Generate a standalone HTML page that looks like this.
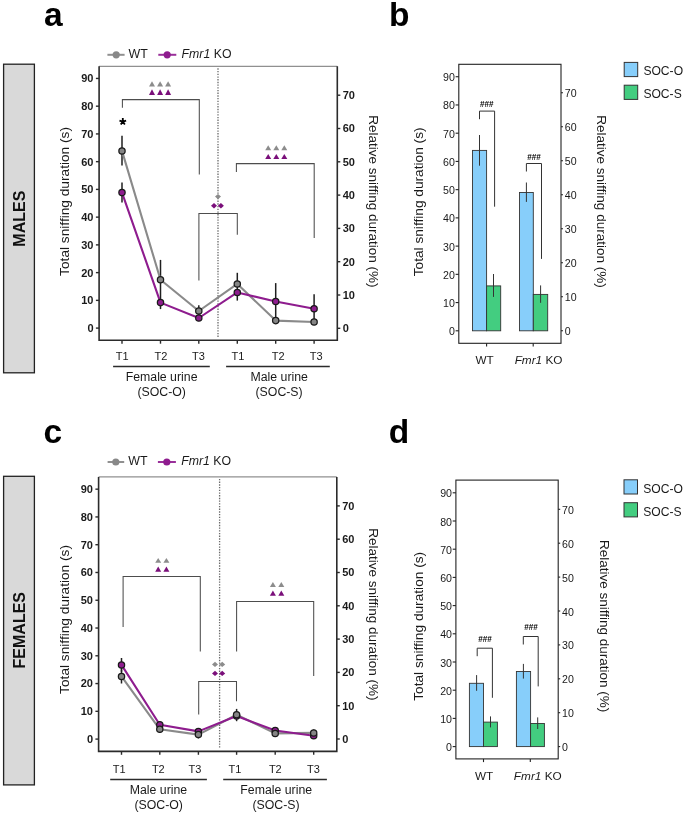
<!DOCTYPE html>
<html><head><meta charset="utf-8"><style>
html,body{margin:0;padding:0;background:#fff;width:685px;height:814px;overflow:hidden;}
svg{display:block;font-family:"Liberation Sans", sans-serif;will-change:transform;}
</style></head><body>
<svg width="685" height="814" viewBox="0 0 685 814" font-family='"Liberation Sans", sans-serif'>
<rect width="685" height="814" fill="#fff"/>
<text x="44.00" y="26.00" font-size="33.5" text-anchor="start" font-weight="bold" font-style="normal" fill="#000" >a</text>
<text x="389.00" y="26.00" font-size="33.5" text-anchor="start" font-weight="bold" font-style="normal" fill="#000" >b</text>
<text x="43.50" y="443.30" font-size="33.5" text-anchor="start" font-weight="bold" font-style="normal" fill="#000" >c</text>
<text x="388.80" y="443.10" font-size="33.5" text-anchor="start" font-weight="bold" font-style="normal" fill="#000" >d</text>
<rect x="3.60" y="64.20" width="30.80" height="308.60" fill="#d9d9d9" stroke="#222" stroke-width="1.3"/>
<rect x="3.60" y="476.30" width="30.80" height="308.60" fill="#d9d9d9" stroke="#222" stroke-width="1.3"/>
<text x="25.00" y="218.70" font-size="16" text-anchor="middle" font-weight="bold" font-style="normal" fill="#111" transform="rotate(-90 25.00 218.70)" >MALES</text>
<text x="25.10" y="630.20" font-size="16" text-anchor="middle" font-weight="bold" font-style="normal" fill="#111" transform="rotate(-90 25.10 630.20)" >FEMALES</text>
<line x1="218.00" y1="68.30" x2="218.00" y2="337.30" stroke="#6a6a6a" stroke-width="1.3" stroke-dasharray="1.35 1.35"/>
<line x1="99.10" y1="66.30" x2="337.30" y2="66.30" stroke="#909090" stroke-width="1.3" />
<polyline points="99.1,66.3 99.1,340.3 337.3,340.3 337.3,66.3" fill="none" stroke="#2b2b2b" stroke-width="1.6"/>
<line x1="95.90" y1="328.10" x2="99.10" y2="328.10" stroke="#2b2b2b" stroke-width="1.4" />
<text x="93.50" y="332.00" font-size="11" text-anchor="end" font-weight="bold" font-style="normal" fill="#1a1a1a" >0</text>
<line x1="95.90" y1="300.36" x2="99.10" y2="300.36" stroke="#2b2b2b" stroke-width="1.4" />
<text x="93.50" y="304.26" font-size="11" text-anchor="end" font-weight="bold" font-style="normal" fill="#1a1a1a" >10</text>
<line x1="95.90" y1="272.62" x2="99.10" y2="272.62" stroke="#2b2b2b" stroke-width="1.4" />
<text x="93.50" y="276.52" font-size="11" text-anchor="end" font-weight="bold" font-style="normal" fill="#1a1a1a" >20</text>
<line x1="95.90" y1="244.88" x2="99.10" y2="244.88" stroke="#2b2b2b" stroke-width="1.4" />
<text x="93.50" y="248.78" font-size="11" text-anchor="end" font-weight="bold" font-style="normal" fill="#1a1a1a" >30</text>
<line x1="95.90" y1="217.14" x2="99.10" y2="217.14" stroke="#2b2b2b" stroke-width="1.4" />
<text x="93.50" y="221.04" font-size="11" text-anchor="end" font-weight="bold" font-style="normal" fill="#1a1a1a" >40</text>
<line x1="95.90" y1="189.40" x2="99.10" y2="189.40" stroke="#2b2b2b" stroke-width="1.4" />
<text x="93.50" y="193.30" font-size="11" text-anchor="end" font-weight="bold" font-style="normal" fill="#1a1a1a" >50</text>
<line x1="95.90" y1="161.66" x2="99.10" y2="161.66" stroke="#2b2b2b" stroke-width="1.4" />
<text x="93.50" y="165.56" font-size="11" text-anchor="end" font-weight="bold" font-style="normal" fill="#1a1a1a" >60</text>
<line x1="95.90" y1="133.92" x2="99.10" y2="133.92" stroke="#2b2b2b" stroke-width="1.4" />
<text x="93.50" y="137.82" font-size="11" text-anchor="end" font-weight="bold" font-style="normal" fill="#1a1a1a" >70</text>
<line x1="95.90" y1="106.18" x2="99.10" y2="106.18" stroke="#2b2b2b" stroke-width="1.4" />
<text x="93.50" y="110.08" font-size="11" text-anchor="end" font-weight="bold" font-style="normal" fill="#1a1a1a" >80</text>
<line x1="95.90" y1="78.44" x2="99.10" y2="78.44" stroke="#2b2b2b" stroke-width="1.4" />
<text x="93.50" y="82.34" font-size="11" text-anchor="end" font-weight="bold" font-style="normal" fill="#1a1a1a" >90</text>
<line x1="337.30" y1="328.30" x2="340.30" y2="328.30" stroke="#2b2b2b" stroke-width="1.4" />
<text x="342.70" y="332.20" font-size="11" text-anchor="start" font-weight="bold" font-style="normal" fill="#1a1a1a" >0</text>
<line x1="337.30" y1="295.00" x2="340.30" y2="295.00" stroke="#2b2b2b" stroke-width="1.4" />
<text x="342.70" y="298.90" font-size="11" text-anchor="start" font-weight="bold" font-style="normal" fill="#1a1a1a" >10</text>
<line x1="337.30" y1="261.70" x2="340.30" y2="261.70" stroke="#2b2b2b" stroke-width="1.4" />
<text x="342.70" y="265.60" font-size="11" text-anchor="start" font-weight="bold" font-style="normal" fill="#1a1a1a" >20</text>
<line x1="337.30" y1="228.40" x2="340.30" y2="228.40" stroke="#2b2b2b" stroke-width="1.4" />
<text x="342.70" y="232.30" font-size="11" text-anchor="start" font-weight="bold" font-style="normal" fill="#1a1a1a" >30</text>
<line x1="337.30" y1="195.10" x2="340.30" y2="195.10" stroke="#2b2b2b" stroke-width="1.4" />
<text x="342.70" y="199.00" font-size="11" text-anchor="start" font-weight="bold" font-style="normal" fill="#1a1a1a" >40</text>
<line x1="337.30" y1="161.80" x2="340.30" y2="161.80" stroke="#2b2b2b" stroke-width="1.4" />
<text x="342.70" y="165.70" font-size="11" text-anchor="start" font-weight="bold" font-style="normal" fill="#1a1a1a" >50</text>
<line x1="337.30" y1="128.50" x2="340.30" y2="128.50" stroke="#2b2b2b" stroke-width="1.4" />
<text x="342.70" y="132.40" font-size="11" text-anchor="start" font-weight="bold" font-style="normal" fill="#1a1a1a" >60</text>
<line x1="337.30" y1="95.20" x2="340.30" y2="95.20" stroke="#2b2b2b" stroke-width="1.4" />
<text x="342.70" y="99.10" font-size="11" text-anchor="start" font-weight="bold" font-style="normal" fill="#1a1a1a" >70</text>
<line x1="122.00" y1="340.30" x2="122.00" y2="343.70" stroke="#2b2b2b" stroke-width="1.4" />
<line x1="160.50" y1="340.30" x2="160.50" y2="343.70" stroke="#2b2b2b" stroke-width="1.4" />
<line x1="198.80" y1="340.30" x2="198.80" y2="343.70" stroke="#2b2b2b" stroke-width="1.4" />
<line x1="237.30" y1="340.30" x2="237.30" y2="343.70" stroke="#2b2b2b" stroke-width="1.4" />
<line x1="275.70" y1="340.30" x2="275.70" y2="343.70" stroke="#2b2b2b" stroke-width="1.4" />
<line x1="314.10" y1="340.30" x2="314.10" y2="343.70" stroke="#2b2b2b" stroke-width="1.4" />
<polyline points="122.40,107.70 122.40,99.60 199.30,99.60 199.30,174.40" fill="none" stroke="#4d4d4d" stroke-width="1.05"/>
<polyline points="236.40,171.90 236.40,163.60 314.20,163.60 314.20,237.90" fill="none" stroke="#4d4d4d" stroke-width="1.05"/>
<polyline points="198.90,280.40 198.90,213.50 237.30,213.50 237.30,234.70" fill="none" stroke="#4d4d4d" stroke-width="1.05"/>
<polygon points="149.00,86.60 155.00,86.60 152.00,81.30" fill="#8c8c8c"/>
<polygon points="157.10,86.60 163.10,86.60 160.10,81.30" fill="#8c8c8c"/>
<polygon points="165.10,86.60 171.10,86.60 168.10,81.30" fill="#8c8c8c"/>
<polygon points="149.00,94.90 155.00,94.90 152.00,89.30" fill="#7a0f7a"/>
<polygon points="157.10,94.90 163.10,94.90 160.10,89.30" fill="#7a0f7a"/>
<polygon points="165.10,94.90 171.10,94.90 168.10,89.30" fill="#7a0f7a"/>
<polygon points="265.20,150.20 271.20,150.20 268.20,145.20" fill="#8c8c8c"/>
<polygon points="273.30,150.20 279.30,150.20 276.30,145.20" fill="#8c8c8c"/>
<polygon points="281.30,150.20 287.30,150.20 284.30,145.20" fill="#8c8c8c"/>
<polygon points="265.20,159.00 271.20,159.00 268.20,153.90" fill="#7a0f7a"/>
<polygon points="273.30,159.00 279.30,159.00 276.30,153.90" fill="#7a0f7a"/>
<polygon points="281.30,159.00 287.30,159.00 284.30,153.90" fill="#7a0f7a"/>
<polygon points="218.00,193.90 221.00,196.60 218.00,199.30 215.00,196.60" fill="#8c8c8c"/>
<polygon points="214.00,203.00 217.00,205.70 214.00,208.40 211.00,205.70" fill="#7a0f7a"/>
<polygon points="220.90,203.00 223.90,205.70 220.90,208.40 217.90,205.70" fill="#7a0f7a"/>
<line x1="122.00" y1="135.70" x2="122.00" y2="165.50" stroke="#1f1f1f" stroke-width="1.5" />
<line x1="122.00" y1="182.50" x2="122.00" y2="202.50" stroke="#1f1f1f" stroke-width="1.5" />
<line x1="160.50" y1="259.90" x2="160.50" y2="309.10" stroke="#1f1f1f" stroke-width="1.5" />
<line x1="198.80" y1="305.20" x2="198.80" y2="316.00" stroke="#1f1f1f" stroke-width="1.5" />
<line x1="237.30" y1="272.80" x2="237.30" y2="300.60" stroke="#1f1f1f" stroke-width="1.5" />
<line x1="275.70" y1="283.10" x2="275.70" y2="320.00" stroke="#1f1f1f" stroke-width="1.5" />
<line x1="314.10" y1="294.30" x2="314.10" y2="322.00" stroke="#1f1f1f" stroke-width="1.5" />
<polyline points="122.00,150.90 160.50,279.80 198.80,311.00 237.30,283.90 275.70,320.60 314.10,322.00" fill="none" stroke="#8a8a8a" stroke-width="2.1" stroke-linejoin="round"/>
<circle cx="122.00" cy="150.90" r="3.15" fill="#858585" stroke="#1a1a1a" stroke-width="1.25"/>
<circle cx="160.50" cy="279.80" r="3.15" fill="#858585" stroke="#1a1a1a" stroke-width="1.25"/>
<circle cx="198.80" cy="311.00" r="3.15" fill="#858585" stroke="#1a1a1a" stroke-width="1.25"/>
<circle cx="237.30" cy="283.90" r="3.15" fill="#858585" stroke="#1a1a1a" stroke-width="1.25"/>
<circle cx="275.70" cy="320.60" r="3.15" fill="#858585" stroke="#1a1a1a" stroke-width="1.25"/>
<circle cx="314.10" cy="322.00" r="3.15" fill="#858585" stroke="#1a1a1a" stroke-width="1.25"/>
<polyline points="122.00,192.60 160.50,302.60 198.80,318.00 237.30,292.40 275.70,301.50 314.10,308.70" fill="none" stroke="#8e1c8e" stroke-width="2.1" stroke-linejoin="round"/>
<circle cx="122.00" cy="192.60" r="3.15" fill="#8e1c8e" stroke="#1a1a1a" stroke-width="1.25"/>
<circle cx="160.50" cy="302.60" r="3.15" fill="#8e1c8e" stroke="#1a1a1a" stroke-width="1.25"/>
<circle cx="198.80" cy="318.00" r="3.15" fill="#8e1c8e" stroke="#1a1a1a" stroke-width="1.25"/>
<circle cx="237.30" cy="292.40" r="3.15" fill="#8e1c8e" stroke="#1a1a1a" stroke-width="1.25"/>
<circle cx="275.70" cy="301.50" r="3.15" fill="#8e1c8e" stroke="#1a1a1a" stroke-width="1.25"/>
<circle cx="314.10" cy="308.70" r="3.15" fill="#8e1c8e" stroke="#1a1a1a" stroke-width="1.25"/>
<line x1="107.40" y1="54.80" x2="124.60" y2="54.80" stroke="#909090" stroke-width="2" />
<circle cx="116.20" cy="54.80" r="3.6" fill="#888888" stroke="none" stroke-width="0"/>
<text x="128.60" y="57.90" font-size="12.4" text-anchor="start" font-weight="normal" font-style="normal" fill="#1a1a1a" >WT</text>
<line x1="158.30" y1="54.80" x2="176.30" y2="54.80" stroke="#9a309a" stroke-width="2" />
<circle cx="167.20" cy="54.80" r="3.6" fill="#8e1c8e" stroke="none" stroke-width="0"/>
<text x="181.60" y="58.00" font-size="12.3" fill="#1a1a1a"><tspan font-style="italic">Fmr1</tspan> KO</text>
<text x="122.20" y="360.40" font-size="11" text-anchor="middle" font-weight="normal" font-style="normal" fill="#1a1a1a" >T1</text>
<text x="161.00" y="360.40" font-size="11" text-anchor="middle" font-weight="normal" font-style="normal" fill="#1a1a1a" >T2</text>
<text x="198.40" y="360.40" font-size="11" text-anchor="middle" font-weight="normal" font-style="normal" fill="#1a1a1a" >T3</text>
<text x="237.90" y="360.40" font-size="11" text-anchor="middle" font-weight="normal" font-style="normal" fill="#1a1a1a" >T1</text>
<text x="278.10" y="360.40" font-size="11" text-anchor="middle" font-weight="normal" font-style="normal" fill="#1a1a1a" >T2</text>
<text x="316.20" y="360.40" font-size="11" text-anchor="middle" font-weight="normal" font-style="normal" fill="#1a1a1a" >T3</text>
<line x1="113.10" y1="366.50" x2="209.80" y2="366.50" stroke="#2b2b2b" stroke-width="1.4" />
<line x1="226.10" y1="366.50" x2="329.80" y2="366.50" stroke="#2b2b2b" stroke-width="1.4" />
<text x="161.60" y="380.90" font-size="12.3" text-anchor="middle" font-weight="normal" font-style="normal" fill="#1a1a1a" >Female urine</text>
<text x="161.70" y="396.20" font-size="12.3" text-anchor="middle" font-weight="normal" font-style="normal" fill="#1a1a1a" >(SOC-O)</text>
<text x="279.20" y="380.90" font-size="12.3" text-anchor="middle" font-weight="normal" font-style="normal" fill="#1a1a1a" >Male urine</text>
<text x="279.10" y="396.20" font-size="12.3" text-anchor="middle" font-weight="normal" font-style="normal" fill="#1a1a1a" >(SOC-S)</text>
<text x="69.05" y="201.45" font-size="13.7" text-anchor="middle" font-weight="normal" font-style="normal" fill="#1a1a1a" transform="rotate(-90 69.05 201.45)" >Total sniffing duration (s)</text>
<text x="368.70" y="201.45" font-size="13.5" text-anchor="middle" font-weight="normal" font-style="normal" fill="#1a1a1a" transform="rotate(90 368.70 201.45)" >Relative sniffing duration (%)</text>
<path d="M122.80,121.60L122.80,118.10M122.80,121.60L126.13,120.52M122.80,121.60L124.86,124.43M122.80,121.60L120.74,124.43M122.80,121.60L119.47,120.52" stroke="#000" stroke-width="1.8" fill="none"/>
<line x1="219.60" y1="478.90" x2="219.60" y2="748.40" stroke="#6a6a6a" stroke-width="1.3" stroke-dasharray="1.35 1.35"/>
<line x1="98.60" y1="476.90" x2="336.80" y2="476.90" stroke="#909090" stroke-width="1.3" />
<polyline points="98.6,476.9 98.6,751.4 336.8,751.4 336.8,476.9" fill="none" stroke="#2b2b2b" stroke-width="1.6"/>
<line x1="95.40" y1="739.10" x2="98.60" y2="739.10" stroke="#2b2b2b" stroke-width="1.4" />
<text x="93.00" y="743.00" font-size="11" text-anchor="end" font-weight="bold" font-style="normal" fill="#1a1a1a" >0</text>
<line x1="95.40" y1="711.33" x2="98.60" y2="711.33" stroke="#2b2b2b" stroke-width="1.4" />
<text x="93.00" y="715.23" font-size="11" text-anchor="end" font-weight="bold" font-style="normal" fill="#1a1a1a" >10</text>
<line x1="95.40" y1="683.56" x2="98.60" y2="683.56" stroke="#2b2b2b" stroke-width="1.4" />
<text x="93.00" y="687.46" font-size="11" text-anchor="end" font-weight="bold" font-style="normal" fill="#1a1a1a" >20</text>
<line x1="95.40" y1="655.79" x2="98.60" y2="655.79" stroke="#2b2b2b" stroke-width="1.4" />
<text x="93.00" y="659.69" font-size="11" text-anchor="end" font-weight="bold" font-style="normal" fill="#1a1a1a" >30</text>
<line x1="95.40" y1="628.02" x2="98.60" y2="628.02" stroke="#2b2b2b" stroke-width="1.4" />
<text x="93.00" y="631.92" font-size="11" text-anchor="end" font-weight="bold" font-style="normal" fill="#1a1a1a" >40</text>
<line x1="95.40" y1="600.25" x2="98.60" y2="600.25" stroke="#2b2b2b" stroke-width="1.4" />
<text x="93.00" y="604.15" font-size="11" text-anchor="end" font-weight="bold" font-style="normal" fill="#1a1a1a" >50</text>
<line x1="95.40" y1="572.48" x2="98.60" y2="572.48" stroke="#2b2b2b" stroke-width="1.4" />
<text x="93.00" y="576.38" font-size="11" text-anchor="end" font-weight="bold" font-style="normal" fill="#1a1a1a" >60</text>
<line x1="95.40" y1="544.71" x2="98.60" y2="544.71" stroke="#2b2b2b" stroke-width="1.4" />
<text x="93.00" y="548.61" font-size="11" text-anchor="end" font-weight="bold" font-style="normal" fill="#1a1a1a" >70</text>
<line x1="95.40" y1="516.94" x2="98.60" y2="516.94" stroke="#2b2b2b" stroke-width="1.4" />
<text x="93.00" y="520.84" font-size="11" text-anchor="end" font-weight="bold" font-style="normal" fill="#1a1a1a" >80</text>
<line x1="95.40" y1="489.17" x2="98.60" y2="489.17" stroke="#2b2b2b" stroke-width="1.4" />
<text x="93.00" y="493.07" font-size="11" text-anchor="end" font-weight="bold" font-style="normal" fill="#1a1a1a" >90</text>
<line x1="336.80" y1="739.00" x2="339.80" y2="739.00" stroke="#2b2b2b" stroke-width="1.4" />
<text x="342.20" y="742.90" font-size="11" text-anchor="start" font-weight="bold" font-style="normal" fill="#1a1a1a" >0</text>
<line x1="336.80" y1="705.70" x2="339.80" y2="705.70" stroke="#2b2b2b" stroke-width="1.4" />
<text x="342.20" y="709.60" font-size="11" text-anchor="start" font-weight="bold" font-style="normal" fill="#1a1a1a" >10</text>
<line x1="336.80" y1="672.40" x2="339.80" y2="672.40" stroke="#2b2b2b" stroke-width="1.4" />
<text x="342.20" y="676.30" font-size="11" text-anchor="start" font-weight="bold" font-style="normal" fill="#1a1a1a" >20</text>
<line x1="336.80" y1="639.10" x2="339.80" y2="639.10" stroke="#2b2b2b" stroke-width="1.4" />
<text x="342.20" y="643.00" font-size="11" text-anchor="start" font-weight="bold" font-style="normal" fill="#1a1a1a" >30</text>
<line x1="336.80" y1="605.80" x2="339.80" y2="605.80" stroke="#2b2b2b" stroke-width="1.4" />
<text x="342.20" y="609.70" font-size="11" text-anchor="start" font-weight="bold" font-style="normal" fill="#1a1a1a" >40</text>
<line x1="336.80" y1="572.50" x2="339.80" y2="572.50" stroke="#2b2b2b" stroke-width="1.4" />
<text x="342.20" y="576.40" font-size="11" text-anchor="start" font-weight="bold" font-style="normal" fill="#1a1a1a" >50</text>
<line x1="336.80" y1="539.20" x2="339.80" y2="539.20" stroke="#2b2b2b" stroke-width="1.4" />
<text x="342.20" y="543.10" font-size="11" text-anchor="start" font-weight="bold" font-style="normal" fill="#1a1a1a" >60</text>
<line x1="336.80" y1="505.90" x2="339.80" y2="505.90" stroke="#2b2b2b" stroke-width="1.4" />
<text x="342.20" y="509.80" font-size="11" text-anchor="start" font-weight="bold" font-style="normal" fill="#1a1a1a" >70</text>
<line x1="121.50" y1="751.40" x2="121.50" y2="754.80" stroke="#2b2b2b" stroke-width="1.4" />
<line x1="159.80" y1="751.40" x2="159.80" y2="754.80" stroke="#2b2b2b" stroke-width="1.4" />
<line x1="198.40" y1="751.40" x2="198.40" y2="754.80" stroke="#2b2b2b" stroke-width="1.4" />
<line x1="236.60" y1="751.40" x2="236.60" y2="754.80" stroke="#2b2b2b" stroke-width="1.4" />
<line x1="275.20" y1="751.40" x2="275.20" y2="754.80" stroke="#2b2b2b" stroke-width="1.4" />
<line x1="313.70" y1="751.40" x2="313.70" y2="754.80" stroke="#2b2b2b" stroke-width="1.4" />
<polyline points="123.10,626.90 123.10,576.40 200.30,576.40 200.30,651.40" fill="none" stroke="#4d4d4d" stroke-width="1.05"/>
<polyline points="236.60,651.40 236.60,601.50 313.70,601.50 313.70,676.00" fill="none" stroke="#4d4d4d" stroke-width="1.05"/>
<polyline points="198.70,714.60 198.70,681.50 236.50,681.50 236.50,701.30" fill="none" stroke="#4d4d4d" stroke-width="1.05"/>
<polygon points="155.20,562.80 161.20,562.80 158.20,557.90" fill="#8c8c8c"/>
<polygon points="163.40,562.80 169.40,562.80 166.40,557.90" fill="#8c8c8c"/>
<polygon points="155.20,571.80 161.20,571.80 158.20,566.40" fill="#7a0f7a"/>
<polygon points="163.40,571.80 169.40,571.80 166.40,566.40" fill="#7a0f7a"/>
<polygon points="269.90,587.00 275.90,587.00 272.90,582.10" fill="#8c8c8c"/>
<polygon points="278.30,587.00 284.30,587.00 281.30,582.10" fill="#8c8c8c"/>
<polygon points="269.90,595.70 275.90,595.70 272.90,590.50" fill="#7a0f7a"/>
<polygon points="278.30,595.70 284.30,595.70 281.30,590.50" fill="#7a0f7a"/>
<polygon points="215.00,661.70 218.00,664.40 215.00,667.10 212.00,664.40" fill="#8c8c8c"/>
<polygon points="222.20,661.70 225.20,664.40 222.20,667.10 219.20,664.40" fill="#8c8c8c"/>
<polygon points="215.00,670.70 218.00,673.40 215.00,676.10 212.00,673.40" fill="#7a0f7a"/>
<polygon points="222.20,670.70 225.20,673.40 222.20,676.10 219.20,673.40" fill="#7a0f7a"/>
<line x1="121.50" y1="658.00" x2="121.50" y2="671.80" stroke="#1f1f1f" stroke-width="1.5" />
<line x1="121.50" y1="669.50" x2="121.50" y2="683.50" stroke="#1f1f1f" stroke-width="1.5" />
<line x1="159.80" y1="721.50" x2="159.80" y2="733.00" stroke="#1f1f1f" stroke-width="1.5" />
<line x1="198.40" y1="728.50" x2="198.40" y2="738.50" stroke="#1f1f1f" stroke-width="1.5" />
<line x1="236.60" y1="708.90" x2="236.60" y2="721.20" stroke="#1f1f1f" stroke-width="1.5" />
<line x1="275.20" y1="727.00" x2="275.20" y2="737.00" stroke="#1f1f1f" stroke-width="1.5" />
<line x1="313.70" y1="729.50" x2="313.70" y2="739.00" stroke="#1f1f1f" stroke-width="1.5" />
<polyline points="121.50,676.40 159.80,729.30 198.40,734.60 236.60,714.70 275.20,733.40 313.70,732.90" fill="none" stroke="#8a8a8a" stroke-width="2.1" stroke-linejoin="round"/>
<polyline points="121.50,664.90 159.80,724.80 198.40,731.40 236.60,716.00 275.20,730.50 313.70,735.70" fill="none" stroke="#8e1c8e" stroke-width="2.1" stroke-linejoin="round"/>
<circle cx="121.50" cy="664.90" r="3.15" fill="#8e1c8e" stroke="#1a1a1a" stroke-width="1.25"/>
<circle cx="159.80" cy="724.80" r="3.15" fill="#8e1c8e" stroke="#1a1a1a" stroke-width="1.25"/>
<circle cx="198.40" cy="731.40" r="3.15" fill="#8e1c8e" stroke="#1a1a1a" stroke-width="1.25"/>
<circle cx="236.60" cy="716.00" r="3.15" fill="#8e1c8e" stroke="#1a1a1a" stroke-width="1.25"/>
<circle cx="275.20" cy="730.50" r="3.15" fill="#8e1c8e" stroke="#1a1a1a" stroke-width="1.25"/>
<circle cx="313.70" cy="735.70" r="3.15" fill="#8e1c8e" stroke="#1a1a1a" stroke-width="1.25"/>
<circle cx="121.50" cy="676.40" r="3.15" fill="#858585" stroke="#1a1a1a" stroke-width="1.25"/>
<circle cx="159.80" cy="729.30" r="3.15" fill="#858585" stroke="#1a1a1a" stroke-width="1.25"/>
<circle cx="198.40" cy="734.60" r="3.15" fill="#858585" stroke="#1a1a1a" stroke-width="1.25"/>
<circle cx="236.60" cy="714.70" r="3.15" fill="#858585" stroke="#1a1a1a" stroke-width="1.25"/>
<circle cx="275.20" cy="733.40" r="3.15" fill="#858585" stroke="#1a1a1a" stroke-width="1.25"/>
<circle cx="313.70" cy="732.90" r="3.15" fill="#858585" stroke="#1a1a1a" stroke-width="1.25"/>
<line x1="107.60" y1="462.00" x2="124.20" y2="462.00" stroke="#909090" stroke-width="2" />
<circle cx="115.80" cy="462.00" r="3.6" fill="#888888" stroke="none" stroke-width="0"/>
<text x="128.20" y="465.10" font-size="12.4" text-anchor="start" font-weight="normal" font-style="normal" fill="#1a1a1a" >WT</text>
<line x1="157.90" y1="462.00" x2="175.90" y2="462.00" stroke="#9a309a" stroke-width="2" />
<circle cx="166.80" cy="462.00" r="3.6" fill="#8e1c8e" stroke="none" stroke-width="0"/>
<text x="181.20" y="465.20" font-size="12.3" fill="#1a1a1a"><tspan font-style="italic">Fmr1</tspan> KO</text>
<text x="119.10" y="773.00" font-size="11" text-anchor="middle" font-weight="normal" font-style="normal" fill="#1a1a1a" >T1</text>
<text x="158.30" y="773.00" font-size="11" text-anchor="middle" font-weight="normal" font-style="normal" fill="#1a1a1a" >T2</text>
<text x="195.00" y="773.00" font-size="11" text-anchor="middle" font-weight="normal" font-style="normal" fill="#1a1a1a" >T3</text>
<text x="234.90" y="773.00" font-size="11" text-anchor="middle" font-weight="normal" font-style="normal" fill="#1a1a1a" >T1</text>
<text x="275.30" y="773.00" font-size="11" text-anchor="middle" font-weight="normal" font-style="normal" fill="#1a1a1a" >T2</text>
<text x="313.40" y="773.00" font-size="11" text-anchor="middle" font-weight="normal" font-style="normal" fill="#1a1a1a" >T3</text>
<line x1="110.20" y1="779.50" x2="206.90" y2="779.50" stroke="#2b2b2b" stroke-width="1.4" />
<line x1="223.20" y1="779.50" x2="326.90" y2="779.50" stroke="#2b2b2b" stroke-width="1.4" />
<text x="158.50" y="793.70" font-size="12.3" text-anchor="middle" font-weight="normal" font-style="normal" fill="#1a1a1a" >Male urine</text>
<text x="158.70" y="809.00" font-size="12.3" text-anchor="middle" font-weight="normal" font-style="normal" fill="#1a1a1a" >(SOC-O)</text>
<text x="276.20" y="793.70" font-size="12.3" text-anchor="middle" font-weight="normal" font-style="normal" fill="#1a1a1a" >Female urine</text>
<text x="276.00" y="809.00" font-size="12.3" text-anchor="middle" font-weight="normal" font-style="normal" fill="#1a1a1a" >(SOC-S)</text>
<text x="69.05" y="619.45" font-size="13.7" text-anchor="middle" font-weight="normal" font-style="normal" fill="#1a1a1a" transform="rotate(-90 69.05 619.45)" >Total sniffing duration (s)</text>
<text x="368.80" y="614.35" font-size="13.5" text-anchor="middle" font-weight="normal" font-style="normal" fill="#1a1a1a" transform="rotate(90 368.80 614.35)" >Relative sniffing duration (%)</text>
<rect x="458.8" y="64.3" width="102.20" height="279.00" fill="none" stroke="#222" stroke-width="1.1"/>
<line x1="455.60" y1="330.80" x2="458.80" y2="330.80" stroke="#222" stroke-width="1.1" />
<text x="454.90" y="335.30" font-size="10.6" text-anchor="end" font-weight="normal" font-style="normal" fill="#1a1a1a" >0</text>
<line x1="455.60" y1="302.57" x2="458.80" y2="302.57" stroke="#222" stroke-width="1.1" />
<text x="454.90" y="307.07" font-size="10.6" text-anchor="end" font-weight="normal" font-style="normal" fill="#1a1a1a" >10</text>
<line x1="455.60" y1="274.34" x2="458.80" y2="274.34" stroke="#222" stroke-width="1.1" />
<text x="454.90" y="278.84" font-size="10.6" text-anchor="end" font-weight="normal" font-style="normal" fill="#1a1a1a" >20</text>
<line x1="455.60" y1="246.11" x2="458.80" y2="246.11" stroke="#222" stroke-width="1.1" />
<text x="454.90" y="250.61" font-size="10.6" text-anchor="end" font-weight="normal" font-style="normal" fill="#1a1a1a" >30</text>
<line x1="455.60" y1="217.88" x2="458.80" y2="217.88" stroke="#222" stroke-width="1.1" />
<text x="454.90" y="222.38" font-size="10.6" text-anchor="end" font-weight="normal" font-style="normal" fill="#1a1a1a" >40</text>
<line x1="455.60" y1="189.65" x2="458.80" y2="189.65" stroke="#222" stroke-width="1.1" />
<text x="454.90" y="194.15" font-size="10.6" text-anchor="end" font-weight="normal" font-style="normal" fill="#1a1a1a" >50</text>
<line x1="455.60" y1="161.42" x2="458.80" y2="161.42" stroke="#222" stroke-width="1.1" />
<text x="454.90" y="165.92" font-size="10.6" text-anchor="end" font-weight="normal" font-style="normal" fill="#1a1a1a" >60</text>
<line x1="455.60" y1="133.19" x2="458.80" y2="133.19" stroke="#222" stroke-width="1.1" />
<text x="454.90" y="137.69" font-size="10.6" text-anchor="end" font-weight="normal" font-style="normal" fill="#1a1a1a" >70</text>
<line x1="455.60" y1="104.96" x2="458.80" y2="104.96" stroke="#222" stroke-width="1.1" />
<text x="454.90" y="109.46" font-size="10.6" text-anchor="end" font-weight="normal" font-style="normal" fill="#1a1a1a" >80</text>
<line x1="455.60" y1="76.73" x2="458.80" y2="76.73" stroke="#222" stroke-width="1.1" />
<text x="454.90" y="81.23" font-size="10.6" text-anchor="end" font-weight="normal" font-style="normal" fill="#1a1a1a" >90</text>
<line x1="561.00" y1="330.70" x2="563.00" y2="330.70" stroke="#222" stroke-width="1.1" />
<text x="564.80" y="335.20" font-size="10.6" text-anchor="start" font-weight="normal" font-style="normal" fill="#1a1a1a" >0</text>
<line x1="561.00" y1="296.70" x2="563.00" y2="296.70" stroke="#222" stroke-width="1.1" />
<text x="564.80" y="301.20" font-size="10.6" text-anchor="start" font-weight="normal" font-style="normal" fill="#1a1a1a" >10</text>
<line x1="561.00" y1="262.70" x2="563.00" y2="262.70" stroke="#222" stroke-width="1.1" />
<text x="564.80" y="267.20" font-size="10.6" text-anchor="start" font-weight="normal" font-style="normal" fill="#1a1a1a" >20</text>
<line x1="561.00" y1="228.70" x2="563.00" y2="228.70" stroke="#222" stroke-width="1.1" />
<text x="564.80" y="233.20" font-size="10.6" text-anchor="start" font-weight="normal" font-style="normal" fill="#1a1a1a" >30</text>
<line x1="561.00" y1="194.70" x2="563.00" y2="194.70" stroke="#222" stroke-width="1.1" />
<text x="564.80" y="199.20" font-size="10.6" text-anchor="start" font-weight="normal" font-style="normal" fill="#1a1a1a" >40</text>
<line x1="561.00" y1="160.70" x2="563.00" y2="160.70" stroke="#222" stroke-width="1.1" />
<text x="564.80" y="165.20" font-size="10.6" text-anchor="start" font-weight="normal" font-style="normal" fill="#1a1a1a" >50</text>
<line x1="561.00" y1="126.70" x2="563.00" y2="126.70" stroke="#222" stroke-width="1.1" />
<text x="564.80" y="131.20" font-size="10.6" text-anchor="start" font-weight="normal" font-style="normal" fill="#1a1a1a" >60</text>
<line x1="561.00" y1="92.70" x2="563.00" y2="92.70" stroke="#222" stroke-width="1.1" />
<text x="564.80" y="97.20" font-size="10.6" text-anchor="start" font-weight="normal" font-style="normal" fill="#1a1a1a" >70</text>
<line x1="486.60" y1="343.30" x2="486.60" y2="346.50" stroke="#222" stroke-width="1.1" />
<line x1="533.20" y1="343.30" x2="533.20" y2="346.50" stroke="#222" stroke-width="1.1" />
<rect x="472.50" y="150.40" width="14.10" height="180.40" fill="#87cefa" stroke="#333" stroke-width="0.9"/>
<rect x="486.60" y="285.90" width="14.10" height="44.90" fill="#43cd80" stroke="#333" stroke-width="0.9"/>
<rect x="519.50" y="192.50" width="13.80" height="138.30" fill="#87cefa" stroke="#333" stroke-width="0.9"/>
<rect x="533.30" y="294.40" width="14.40" height="36.40" fill="#43cd80" stroke="#333" stroke-width="0.9"/>
<line x1="479.50" y1="135.00" x2="479.50" y2="165.70" stroke="#333" stroke-width="1.0" />
<line x1="493.50" y1="274.00" x2="493.50" y2="296.90" stroke="#333" stroke-width="1.0" />
<line x1="526.40" y1="182.50" x2="526.40" y2="201.90" stroke="#333" stroke-width="1.0" />
<line x1="540.60" y1="285.40" x2="540.60" y2="302.80" stroke="#333" stroke-width="1.0" />
<polyline points="479.50,119.20 479.50,111.10 494.60,111.10 494.60,206.70" fill="none" stroke="#333" stroke-width="1.0"/>
<polyline points="526.40,171.50 526.40,163.50 541.50,163.50 541.50,258.90" fill="none" stroke="#333" stroke-width="1.0"/>
<text x="486.70" y="107.40" font-size="9.2" text-anchor="middle" font-weight="bold" font-style="normal" fill="#000" textLength="13.6" lengthAdjust="spacingAndGlyphs">###</text>
<text x="534.00" y="159.90" font-size="9.2" text-anchor="middle" font-weight="bold" font-style="normal" fill="#000" textLength="13.6" lengthAdjust="spacingAndGlyphs">###</text>
<text x="484.50" y="364.20" font-size="11.7" text-anchor="middle" font-weight="normal" font-style="normal" fill="#1a1a1a" >WT</text>
<text x="538.60" y="364.20" font-size="11.8" text-anchor="middle" fill="#1a1a1a"><tspan font-style="italic">Fmr1</tspan> KO</text>
<rect x="624.20" y="62.40" width="13.50" height="14.20" fill="#87cefa" stroke="#333" stroke-width="1.0"/>
<rect x="624.20" y="85.20" width="13.50" height="14.20" fill="#43cd80" stroke="#333" stroke-width="1.0"/>
<text x="643.40" y="74.80" font-size="12.1" text-anchor="start" font-weight="normal" font-style="normal" fill="#1a1a1a" >SOC-O</text>
<text x="643.40" y="97.80" font-size="12.1" text-anchor="start" font-weight="normal" font-style="normal" fill="#1a1a1a" >SOC-S</text>
<text x="423.20" y="201.85" font-size="13.7" text-anchor="middle" font-weight="normal" font-style="normal" fill="#1a1a1a" transform="rotate(-90 423.20 201.85)" >Total sniffing duration (s)</text>
<text x="596.80" y="201.50" font-size="13.5" text-anchor="middle" font-weight="normal" font-style="normal" fill="#1a1a1a" transform="rotate(90 596.80 201.50)" >Relative sniffing duration (%)</text>
<rect x="455.9" y="480.1" width="102.30" height="278.80" fill="none" stroke="#222" stroke-width="1.1"/>
<line x1="452.70" y1="746.60" x2="455.90" y2="746.60" stroke="#222" stroke-width="1.1" />
<text x="452.00" y="751.10" font-size="10.6" text-anchor="end" font-weight="normal" font-style="normal" fill="#1a1a1a" >0</text>
<line x1="452.70" y1="718.40" x2="455.90" y2="718.40" stroke="#222" stroke-width="1.1" />
<text x="452.00" y="722.90" font-size="10.6" text-anchor="end" font-weight="normal" font-style="normal" fill="#1a1a1a" >10</text>
<line x1="452.70" y1="690.20" x2="455.90" y2="690.20" stroke="#222" stroke-width="1.1" />
<text x="452.00" y="694.70" font-size="10.6" text-anchor="end" font-weight="normal" font-style="normal" fill="#1a1a1a" >20</text>
<line x1="452.70" y1="662.00" x2="455.90" y2="662.00" stroke="#222" stroke-width="1.1" />
<text x="452.00" y="666.50" font-size="10.6" text-anchor="end" font-weight="normal" font-style="normal" fill="#1a1a1a" >30</text>
<line x1="452.70" y1="633.80" x2="455.90" y2="633.80" stroke="#222" stroke-width="1.1" />
<text x="452.00" y="638.30" font-size="10.6" text-anchor="end" font-weight="normal" font-style="normal" fill="#1a1a1a" >40</text>
<line x1="452.70" y1="605.60" x2="455.90" y2="605.60" stroke="#222" stroke-width="1.1" />
<text x="452.00" y="610.10" font-size="10.6" text-anchor="end" font-weight="normal" font-style="normal" fill="#1a1a1a" >50</text>
<line x1="452.70" y1="577.40" x2="455.90" y2="577.40" stroke="#222" stroke-width="1.1" />
<text x="452.00" y="581.90" font-size="10.6" text-anchor="end" font-weight="normal" font-style="normal" fill="#1a1a1a" >60</text>
<line x1="452.70" y1="549.20" x2="455.90" y2="549.20" stroke="#222" stroke-width="1.1" />
<text x="452.00" y="553.70" font-size="10.6" text-anchor="end" font-weight="normal" font-style="normal" fill="#1a1a1a" >70</text>
<line x1="452.70" y1="521.00" x2="455.90" y2="521.00" stroke="#222" stroke-width="1.1" />
<text x="452.00" y="525.50" font-size="10.6" text-anchor="end" font-weight="normal" font-style="normal" fill="#1a1a1a" >80</text>
<line x1="452.70" y1="492.80" x2="455.90" y2="492.80" stroke="#222" stroke-width="1.1" />
<text x="452.00" y="497.30" font-size="10.6" text-anchor="end" font-weight="normal" font-style="normal" fill="#1a1a1a" >90</text>
<line x1="558.20" y1="746.60" x2="560.20" y2="746.60" stroke="#222" stroke-width="1.1" />
<text x="562.00" y="751.10" font-size="10.6" text-anchor="start" font-weight="normal" font-style="normal" fill="#1a1a1a" >0</text>
<line x1="558.20" y1="712.70" x2="560.20" y2="712.70" stroke="#222" stroke-width="1.1" />
<text x="562.00" y="717.20" font-size="10.6" text-anchor="start" font-weight="normal" font-style="normal" fill="#1a1a1a" >10</text>
<line x1="558.20" y1="678.80" x2="560.20" y2="678.80" stroke="#222" stroke-width="1.1" />
<text x="562.00" y="683.30" font-size="10.6" text-anchor="start" font-weight="normal" font-style="normal" fill="#1a1a1a" >20</text>
<line x1="558.20" y1="644.90" x2="560.20" y2="644.90" stroke="#222" stroke-width="1.1" />
<text x="562.00" y="649.40" font-size="10.6" text-anchor="start" font-weight="normal" font-style="normal" fill="#1a1a1a" >30</text>
<line x1="558.20" y1="611.00" x2="560.20" y2="611.00" stroke="#222" stroke-width="1.1" />
<text x="562.00" y="615.50" font-size="10.6" text-anchor="start" font-weight="normal" font-style="normal" fill="#1a1a1a" >40</text>
<line x1="558.20" y1="577.10" x2="560.20" y2="577.10" stroke="#222" stroke-width="1.1" />
<text x="562.00" y="581.60" font-size="10.6" text-anchor="start" font-weight="normal" font-style="normal" fill="#1a1a1a" >50</text>
<line x1="558.20" y1="543.20" x2="560.20" y2="543.20" stroke="#222" stroke-width="1.1" />
<text x="562.00" y="547.70" font-size="10.6" text-anchor="start" font-weight="normal" font-style="normal" fill="#1a1a1a" >60</text>
<line x1="558.20" y1="509.30" x2="560.20" y2="509.30" stroke="#222" stroke-width="1.1" />
<text x="562.00" y="513.80" font-size="10.6" text-anchor="start" font-weight="normal" font-style="normal" fill="#1a1a1a" >70</text>
<line x1="483.50" y1="758.90" x2="483.50" y2="762.10" stroke="#222" stroke-width="1.1" />
<line x1="530.30" y1="758.90" x2="530.30" y2="762.10" stroke="#222" stroke-width="1.1" />
<rect x="469.40" y="683.30" width="14.10" height="63.30" fill="#87cefa" stroke="#333" stroke-width="0.9"/>
<rect x="483.50" y="722.10" width="13.90" height="24.50" fill="#43cd80" stroke="#333" stroke-width="0.9"/>
<rect x="516.40" y="671.50" width="14.20" height="75.10" fill="#87cefa" stroke="#333" stroke-width="0.9"/>
<rect x="530.60" y="723.50" width="13.80" height="23.10" fill="#43cd80" stroke="#333" stroke-width="0.9"/>
<line x1="476.60" y1="675.10" x2="476.60" y2="690.80" stroke="#333" stroke-width="1.0" />
<line x1="490.50" y1="716.40" x2="490.50" y2="727.40" stroke="#333" stroke-width="1.0" />
<line x1="523.40" y1="663.90" x2="523.40" y2="678.60" stroke="#333" stroke-width="1.0" />
<line x1="537.70" y1="717.40" x2="537.70" y2="729.00" stroke="#333" stroke-width="1.0" />
<polyline points="477.20,656.20 477.20,648.20 492.40,648.20 492.40,697.80" fill="none" stroke="#333" stroke-width="1.0"/>
<polyline points="523.30,644.50 523.30,636.50 538.20,636.50 538.20,686.40" fill="none" stroke="#333" stroke-width="1.0"/>
<text x="485.00" y="641.60" font-size="9.2" text-anchor="middle" font-weight="bold" font-style="normal" fill="#000" textLength="13.6" lengthAdjust="spacingAndGlyphs">###</text>
<text x="531.00" y="629.90" font-size="9.2" text-anchor="middle" font-weight="bold" font-style="normal" fill="#000" textLength="13.6" lengthAdjust="spacingAndGlyphs">###</text>
<text x="484.00" y="780.00" font-size="11.7" text-anchor="middle" font-weight="normal" font-style="normal" fill="#1a1a1a" >WT</text>
<text x="537.80" y="780.00" font-size="11.8" text-anchor="middle" fill="#1a1a1a"><tspan font-style="italic">Fmr1</tspan> KO</text>
<rect x="624.00" y="479.80" width="13.50" height="14.20" fill="#87cefa" stroke="#333" stroke-width="1.0"/>
<rect x="624.00" y="502.70" width="13.50" height="14.20" fill="#43cd80" stroke="#333" stroke-width="1.0"/>
<text x="643.20" y="492.60" font-size="12.1" text-anchor="start" font-weight="normal" font-style="normal" fill="#1a1a1a" >SOC-O</text>
<text x="643.20" y="515.50" font-size="12.1" text-anchor="start" font-weight="normal" font-style="normal" fill="#1a1a1a" >SOC-S</text>
<text x="423.20" y="626.30" font-size="13.7" text-anchor="middle" font-weight="normal" font-style="normal" fill="#1a1a1a" transform="rotate(-90 423.20 626.30)" >Total sniffing duration (s)</text>
<text x="599.80" y="626.15" font-size="13.5" text-anchor="middle" font-weight="normal" font-style="normal" fill="#1a1a1a" transform="rotate(90 599.80 626.15)" >Relative sniffing duration (%)</text>
</svg>
</body></html>
